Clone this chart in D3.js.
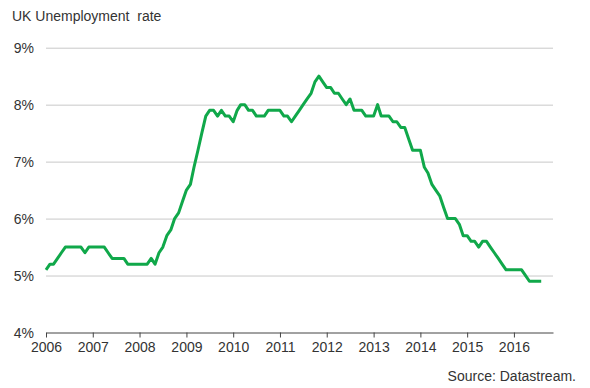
<!DOCTYPE html>
<html>
<head>
<meta charset="utf-8">
<script src="https://cdn.jsdelivr.net/npm/d3@7"></script>
<style>
  body { margin: 0; background: #fff; }
  text { font-family: Arial, "Liberation Sans", sans-serif; fill: #333; }
  .grid line { stroke: #c8c8c8; }
  .grid path { display: none; }
  .x-axis path, .x-axis line { stroke: #444; }
</style>
</head>
<body>
<div class="chart"></div>
<script>
/// Monthly UK unemployment rate (%), Jan 2006 - Aug 2016
var startYear = 2006;
var rate2006 = [5.1, 5.2, 5.2, 5.3, 5.4, 5.5, 5.5, 5.5, 5.5, 5.5, 5.4, 5.5];
var rate2007 = [5.5, 5.5, 5.5, 5.5, 5.4, 5.3, 5.3, 5.3, 5.3, 5.2, 5.2, 5.2];
var rate2008 = [5.2, 5.2, 5.2, 5.3, 5.2, 5.4, 5.5, 5.7, 5.8, 6.0, 6.1, 6.3];
var rate2009 = [6.5, 6.6, 6.9, 7.2, 7.5, 7.8, 7.9, 7.9, 7.8, 7.9, 7.8, 7.8];
var rate2010 = [7.7, 7.9, 8.0, 8.0, 7.9, 7.9, 7.8, 7.8, 7.8, 7.9, 7.9, 7.9];
var rate2011 = [7.9, 7.8, 7.8, 7.7, 7.8, 7.9, 8.0, 8.1, 8.2, 8.4, 8.5, 8.4];
var rate2012 = [8.3, 8.3, 8.2, 8.2, 8.1, 8.0, 8.1, 7.9, 7.9, 7.9, 7.8, 7.8];
var rate2013 = [7.8, 8.0, 7.8, 7.8, 7.8, 7.7, 7.7, 7.6, 7.6, 7.4, 7.2, 7.2];
var rate2014 = [7.2, 6.9, 6.8, 6.6, 6.5, 6.4, 6.2, 6.0, 6.0, 6.0, 5.9, 5.7];
var rate2015 = [5.7, 5.6, 5.6, 5.5, 5.6, 5.6, 5.5, 5.4, 5.3, 5.2, 5.1, 5.1];
var rate2016 = [5.1, 5.1, 5.1, 5.0, 4.9, 4.9, 4.9, 4.9];

var yTicks = [4, 5, 6, 7, 8, 9];
var xTickYears = [2006, 2007, 2008, 2009, 2010, 2011, 2012, 2013, 2014, 2015, 2016];

var allYears = [rate2006, rate2007, rate2008, rate2009, rate2010, rate2011,
                rate2012, rate2013, rate2014, rate2015, rate2016];

var rateData = [];
allYears.forEach(function(yearVals, i) {
    yearVals.forEach(function(v, m) {
        rateData.push({ date: new Date(startYear + i, m, 1), rate: v });
    });
});

/// SVG Wrapper Dimensions
var svgWidth = 590;
var svgHeight = 388;

var svg = d3.select(".chart")
    .append("svg")
    .attr("width", svgWidth)
    .attr("height", svgHeight);

/// Scales
var xScale = d3.scaleTime()
    .domain([new Date(2006, 0, 1), new Date(2016, 10, 1)])
    .range([46, 553]);

var yScale = d3.scaleLinear()
    .domain([4, 9])
    .range([332.5, 47.7]);

/// Gridlines + y labels
var grid = svg.append("g")
    .attr("class", "grid")
    .attr("transform", "translate(46, 0)")
    .call(d3.axisLeft(yScale)
        .tickValues(yTicks.filter(d => d > 4))
        .tickSize(-(553 - 46))
        .tickFormat(""));

svg.append("g").selectAll("text")
    .data(yTicks)
    .enter()
    .append("text")
    .attr("x", 34)
    .attr("y", d => yScale(d))
    .attr("dy", "0.36em")
    .attr("text-anchor", "end")
    .style("font-size", "14px")
    .text(d => d + "%");

/// X axis
var xAxis = svg.append("g")
    .attr("class", "x-axis")
    .attr("transform", "translate(0, 332.5)")
    .call(d3.axisBottom(xScale)
        .tickValues(xTickYears.map(y => new Date(y, 0, 1)))
        .tickSize(5)
        .tickSizeOuter(0)
        .tickFormat(d3.timeFormat("%Y")));

xAxis.selectAll("text")
    .attr("y", 10)
    .style("font-size", "14px")
    .style("fill", "#333");

/// Line
var line = d3.line()
    .x(d => xScale(d.date))
    .y(d => yScale(d.rate));

svg.append("path")
    .datum(rateData)
    .attr("fill", "none")
    .attr("stroke", "#10a84a")
    .attr("stroke-width", 3)
    .attr("stroke-linejoin", "round")
    .attr("d", line);

/// Title and source
svg.append("text")
    .attr("x", 12)
    .attr("y", 21)
    .style("font-size", "14px")
    .style("white-space", "pre")
    .attr("xml:space", "preserve")
    .text("UK Unemployment  rate");

svg.append("text")
    .attr("x", 576)
    .attr("y", 381)
    .attr("text-anchor", "end")
    .style("font-size", "14px")
    .text("Source: Datastream.");
</script>
</body>
</html>
